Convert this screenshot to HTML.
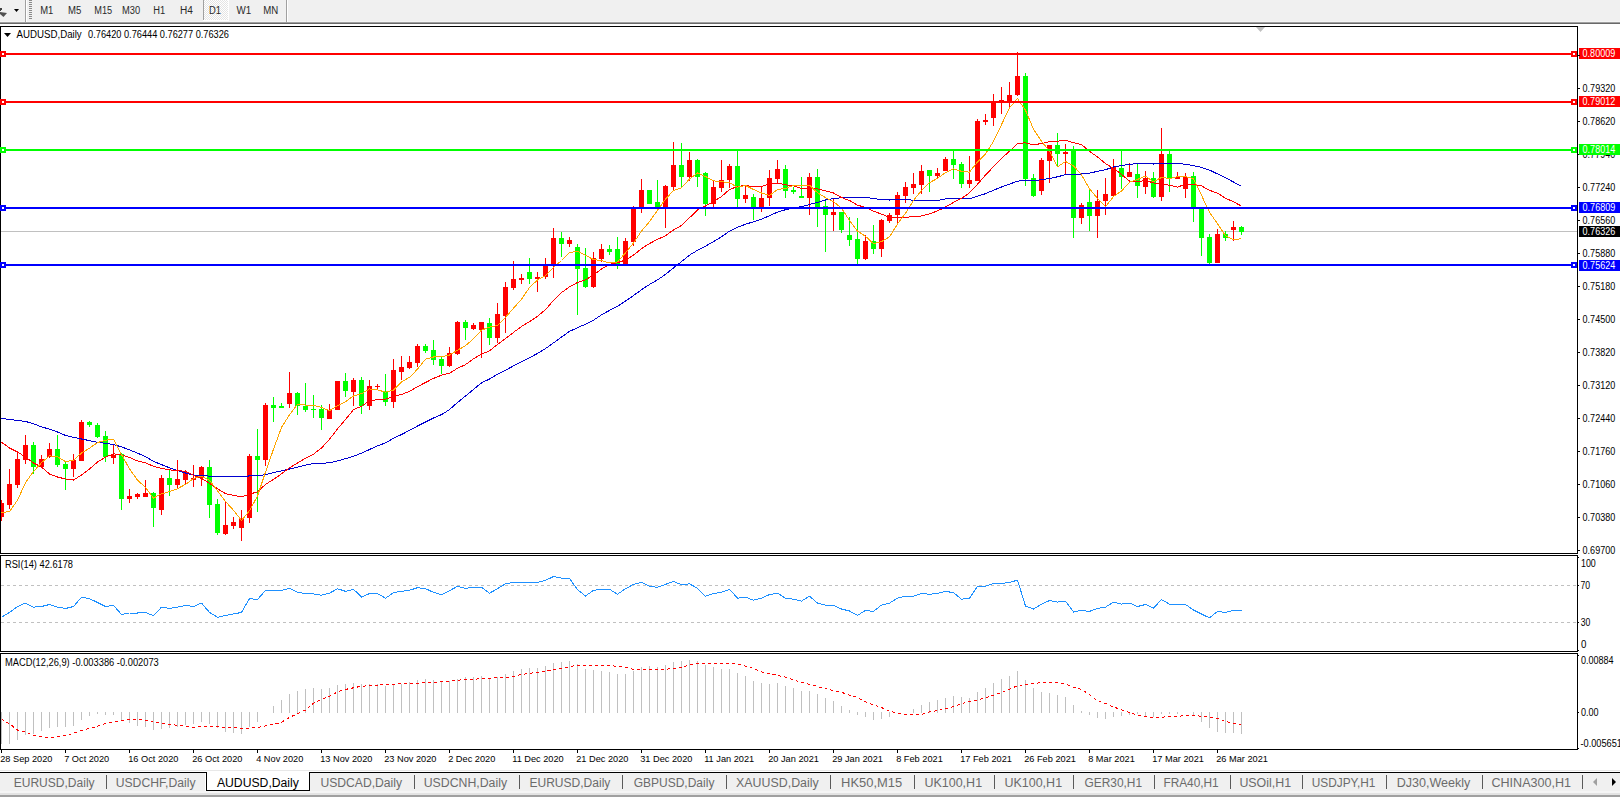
<!DOCTYPE html>
<html><head><meta charset="utf-8"><style>
html,body{margin:0;padding:0;background:#fff;width:1620px;height:797px;overflow:hidden}
svg{display:block;font-family:"Liberation Sans",sans-serif}
</style></head><body>
<svg width="1620" height="797" viewBox="0 0 1620 797" shape-rendering="crispEdges">
<defs><pattern id="chk" x="0" y="0" width="2" height="2" patternUnits="userSpaceOnUse"><rect width="2" height="2" fill="#ffffff"/><rect width="1" height="1" fill="#e4e4e4"/><rect x="1" y="1" width="1" height="1" fill="#e4e4e4"/></pattern><clipPath id="mainclip"><rect x="1" y="27" width="1576" height="526"/></clipPath><clipPath id="rsiclip"><rect x="1" y="556" width="1576" height="95"/></clipPath><clipPath id="macdclip"><rect x="1" y="654" width="1576" height="95"/></clipPath></defs>
<rect x="0" y="0" width="1620" height="21" fill="#f0f0f0"/><rect x="0" y="21" width="1620" height="1" fill="#f5f5f5"/><rect x="0" y="22" width="1620" height="1" fill="#a0a0a0"/><rect x="0" y="23" width="1620" height="1" fill="#696969"/><rect x="0" y="24" width="1620" height="2" fill="#ffffff"/><rect x="25" y="0" width="1" height="22" fill="#a0a0a0"/><rect x="26" y="0" width="1" height="22" fill="#ffffff"/><rect x="29" y="0" width="3" height="1" fill="#8a8a8a"/><rect x="29" y="2" width="3" height="1" fill="#8a8a8a"/><rect x="29" y="4" width="3" height="1" fill="#8a8a8a"/><rect x="29" y="6" width="3" height="1" fill="#8a8a8a"/><rect x="29" y="8" width="3" height="1" fill="#8a8a8a"/><rect x="29" y="10" width="3" height="1" fill="#8a8a8a"/><rect x="29" y="12" width="3" height="1" fill="#8a8a8a"/><rect x="29" y="14" width="3" height="1" fill="#8a8a8a"/><rect x="29" y="16" width="3" height="1" fill="#8a8a8a"/><rect x="29" y="18" width="3" height="1" fill="#8a8a8a"/><rect x="203" y="0" width="1" height="20" fill="#a0a0a0"/><rect x="204" y="0" width="24" height="20" fill="url(#chk)"/><rect x="228" y="0" width="1" height="21" fill="#ffffff"/><rect x="203" y="20" width="26" height="1" fill="#ffffff"/><rect x="286" y="0" width="1" height="22" fill="#a0a0a0"/><rect x="287" y="0" width="1" height="22" fill="#ffffff"/><path d="M14 9 L19 9 L16.5 12 Z" fill="#000" shape-rendering="auto"/><path d="M0 8 L2 8 L2 10 L0 11 Z" fill="#404040"/><path d="M0 12 L7 13 L3.5 17 L0 14 Z" fill="#505050" shape-rendering="auto"/><text x="40.2" y="14" font-size="10" fill="#2a2a2a" textLength="13.10" lengthAdjust="spacingAndGlyphs" >M1</text><text x="68.0" y="14" font-size="10" fill="#2a2a2a" textLength="13.30" lengthAdjust="spacingAndGlyphs" >M5</text><text x="94.3" y="14" font-size="10" fill="#2a2a2a" textLength="17.90" lengthAdjust="spacingAndGlyphs" >M15</text><text x="122.1" y="14" font-size="10" fill="#2a2a2a" textLength="18.10" lengthAdjust="spacingAndGlyphs" >M30</text><text x="153.3" y="14" font-size="10" fill="#2a2a2a" textLength="11.90" lengthAdjust="spacingAndGlyphs" >H1</text><text x="180.1" y="14" font-size="10" fill="#2a2a2a" textLength="12.90" lengthAdjust="spacingAndGlyphs" >H4</text><text x="209.1" y="14" font-size="10" fill="#2a2a2a" textLength="12.00" lengthAdjust="spacingAndGlyphs" >D1</text><text x="236.6" y="14" font-size="10" fill="#2a2a2a" textLength="14.70" lengthAdjust="spacingAndGlyphs" >W1</text><text x="263.3" y="14" font-size="10" fill="#2a2a2a" textLength="15.00" lengthAdjust="spacingAndGlyphs" >MN</text><rect x="0" y="26" width="1578" height="1" fill="#000"/><rect x="0" y="553" width="1578" height="1" fill="#000"/><rect x="0" y="26" width="1" height="528" fill="#000"/><rect x="1577" y="26" width="1" height="528" fill="#000"/><path d="M1256 27 L1265 27 L1260.5 32 Z" fill="#c0c0c0" shape-rendering="auto"/><rect x="1" y="231" width="1576" height="1" fill="#c0c0c0"/><g clip-path="url(#mainclip)"><rect x="1" y="500" width="1" height="21" fill="#ff0000"/><rect x="-1" y="503" width="5" height="14" fill="#ff0000"/><rect x="9" y="469" width="1" height="40" fill="#ff0000"/><rect x="7" y="484" width="5" height="21" fill="#ff0000"/><rect x="17" y="452" width="1" height="36" fill="#ff0000"/><rect x="15" y="459" width="5" height="26" fill="#ff0000"/><rect x="25" y="435" width="1" height="29" fill="#ff0000"/><rect x="23" y="445" width="5" height="15" fill="#ff0000"/><rect x="33" y="442" width="1" height="32" fill="#00ff00"/><rect x="31" y="445" width="5" height="22" fill="#00ff00"/><rect x="41" y="455" width="1" height="12" fill="#ff0000"/><rect x="39" y="459" width="5" height="8" fill="#ff0000"/><rect x="49" y="443" width="1" height="15" fill="#ff0000"/><rect x="47" y="449" width="5" height="8" fill="#ff0000"/><rect x="57" y="435" width="1" height="32" fill="#00ff00"/><rect x="55" y="449" width="5" height="16" fill="#00ff00"/><rect x="65" y="461" width="1" height="29" fill="#00ff00"/><rect x="63" y="464" width="5" height="5" fill="#00ff00"/><rect x="73" y="454" width="1" height="23" fill="#ff0000"/><rect x="71" y="460" width="5" height="9" fill="#ff0000"/><rect x="81" y="420" width="1" height="41" fill="#ff0000"/><rect x="79" y="422" width="5" height="39" fill="#ff0000"/><rect x="89" y="421" width="1" height="6" fill="#00ff00"/><rect x="87" y="422" width="5" height="3" fill="#00ff00"/><rect x="97" y="423" width="1" height="15" fill="#00ff00"/><rect x="95" y="425" width="5" height="12" fill="#00ff00"/><rect x="105" y="431" width="1" height="31" fill="#00ff00"/><rect x="103" y="436" width="5" height="21" fill="#00ff00"/><rect x="113" y="444" width="1" height="20" fill="#ff0000"/><rect x="111" y="455" width="5" height="3" fill="#ff0000"/><rect x="121" y="453" width="1" height="57" fill="#00ff00"/><rect x="119" y="454" width="5" height="45" fill="#00ff00"/><rect x="129" y="489" width="1" height="14" fill="#ff0000"/><rect x="127" y="496" width="5" height="3" fill="#ff0000"/><rect x="137" y="493" width="1" height="6" fill="#ff0000"/><rect x="135" y="494" width="5" height="3" fill="#ff0000"/><rect x="145" y="480" width="1" height="17" fill="#ff0000"/><rect x="143" y="493" width="5" height="4" fill="#ff0000"/><rect x="153" y="492" width="1" height="35" fill="#00ff00"/><rect x="151" y="493" width="5" height="15" fill="#00ff00"/><rect x="161" y="475" width="1" height="40" fill="#ff0000"/><rect x="159" y="478" width="5" height="32" fill="#ff0000"/><rect x="169" y="470" width="1" height="26" fill="#00ff00"/><rect x="167" y="478" width="5" height="7" fill="#00ff00"/><rect x="177" y="460" width="1" height="28" fill="#ff0000"/><rect x="175" y="479" width="5" height="6" fill="#ff0000"/><rect x="185" y="470" width="1" height="14" fill="#ff0000"/><rect x="183" y="472" width="5" height="8" fill="#ff0000"/><rect x="193" y="465" width="1" height="22" fill="#ff0000"/><rect x="191" y="478" width="5" height="2" fill="#ff0000"/><rect x="201" y="466" width="1" height="20" fill="#ff0000"/><rect x="199" y="467" width="5" height="11" fill="#ff0000"/><rect x="209" y="460" width="1" height="58" fill="#00ff00"/><rect x="207" y="467" width="5" height="38" fill="#00ff00"/><rect x="217" y="499" width="1" height="36" fill="#00ff00"/><rect x="215" y="504" width="5" height="29" fill="#00ff00"/><rect x="225" y="502" width="1" height="33" fill="#ff0000"/><rect x="223" y="525" width="5" height="9" fill="#ff0000"/><rect x="233" y="517" width="1" height="12" fill="#ff0000"/><rect x="231" y="522" width="5" height="4" fill="#ff0000"/><rect x="241" y="510" width="1" height="31" fill="#ff0000"/><rect x="239" y="518" width="5" height="10" fill="#ff0000"/><rect x="249" y="454" width="1" height="69" fill="#ff0000"/><rect x="247" y="456" width="5" height="62" fill="#ff0000"/><rect x="257" y="429" width="1" height="83" fill="#00ff00"/><rect x="255" y="456" width="5" height="4" fill="#00ff00"/><rect x="265" y="403" width="1" height="63" fill="#ff0000"/><rect x="263" y="405" width="5" height="55" fill="#ff0000"/><rect x="273" y="397" width="1" height="25" fill="#00ff00"/><rect x="271" y="405" width="5" height="3" fill="#00ff00"/><rect x="281" y="403" width="1" height="5" fill="#00ff00"/><rect x="279" y="406" width="5" height="2" fill="#00ff00"/><rect x="289" y="372" width="1" height="36" fill="#ff0000"/><rect x="287" y="393" width="5" height="11" fill="#ff0000"/><rect x="297" y="392" width="1" height="23" fill="#00ff00"/><rect x="295" y="393" width="5" height="13" fill="#00ff00"/><rect x="305" y="383" width="1" height="29" fill="#00ff00"/><rect x="303" y="406" width="5" height="4" fill="#00ff00"/><rect x="313" y="395" width="1" height="23" fill="#00ff00"/><rect x="311" y="409" width="5" height="1" fill="#00ff00"/><rect x="321" y="405" width="1" height="25" fill="#00ff00"/><rect x="319" y="409" width="5" height="9" fill="#00ff00"/><rect x="329" y="404" width="1" height="15" fill="#ff0000"/><rect x="327" y="410" width="5" height="9" fill="#ff0000"/><rect x="337" y="381" width="1" height="29" fill="#ff0000"/><rect x="335" y="381" width="5" height="29" fill="#ff0000"/><rect x="345" y="373" width="1" height="24" fill="#00ff00"/><rect x="343" y="381" width="5" height="10" fill="#00ff00"/><rect x="353" y="378" width="1" height="28" fill="#ff0000"/><rect x="351" y="380" width="5" height="12" fill="#ff0000"/><rect x="361" y="377" width="1" height="37" fill="#00ff00"/><rect x="359" y="380" width="5" height="26" fill="#00ff00"/><rect x="369" y="380" width="1" height="30" fill="#ff0000"/><rect x="367" y="386" width="5" height="20" fill="#ff0000"/><rect x="377" y="384" width="1" height="5" fill="#ff0000"/><rect x="375" y="386" width="5" height="1" fill="#ff0000"/><rect x="385" y="374" width="1" height="32" fill="#00ff00"/><rect x="383" y="392" width="5" height="10" fill="#00ff00"/><rect x="393" y="359" width="1" height="49" fill="#ff0000"/><rect x="391" y="370" width="5" height="32" fill="#ff0000"/><rect x="401" y="356" width="1" height="24" fill="#ff0000"/><rect x="399" y="367" width="5" height="5" fill="#ff0000"/><rect x="409" y="356" width="1" height="13" fill="#ff0000"/><rect x="407" y="362" width="5" height="6" fill="#ff0000"/><rect x="417" y="344" width="1" height="23" fill="#ff0000"/><rect x="415" y="346" width="5" height="17" fill="#ff0000"/><rect x="425" y="344" width="1" height="9" fill="#00ff00"/><rect x="423" y="346" width="5" height="5" fill="#00ff00"/><rect x="433" y="340" width="1" height="25" fill="#00ff00"/><rect x="431" y="350" width="5" height="10" fill="#00ff00"/><rect x="441" y="357" width="1" height="17" fill="#00ff00"/><rect x="439" y="359" width="5" height="7" fill="#00ff00"/><rect x="449" y="347" width="1" height="20" fill="#ff0000"/><rect x="447" y="353" width="5" height="13" fill="#ff0000"/><rect x="457" y="321" width="1" height="34" fill="#ff0000"/><rect x="455" y="322" width="5" height="32" fill="#ff0000"/><rect x="465" y="320" width="1" height="20" fill="#00ff00"/><rect x="463" y="322" width="5" height="6" fill="#00ff00"/><rect x="473" y="323" width="1" height="7" fill="#ff0000"/><rect x="471" y="325" width="5" height="4" fill="#ff0000"/><rect x="481" y="322" width="1" height="36" fill="#ff0000"/><rect x="479" y="322" width="5" height="8" fill="#ff0000"/><rect x="489" y="318" width="1" height="27" fill="#00ff00"/><rect x="487" y="323" width="5" height="15" fill="#00ff00"/><rect x="497" y="303" width="1" height="40" fill="#ff0000"/><rect x="495" y="314" width="5" height="24" fill="#ff0000"/><rect x="505" y="282" width="1" height="51" fill="#ff0000"/><rect x="503" y="287" width="5" height="29" fill="#ff0000"/><rect x="513" y="261" width="1" height="29" fill="#ff0000"/><rect x="511" y="279" width="5" height="9" fill="#ff0000"/><rect x="521" y="274" width="1" height="10" fill="#ff0000"/><rect x="519" y="278" width="5" height="2" fill="#ff0000"/><rect x="529" y="258" width="1" height="26" fill="#00ff00"/><rect x="527" y="272" width="5" height="7" fill="#00ff00"/><rect x="537" y="272" width="1" height="20" fill="#ff0000"/><rect x="535" y="277" width="5" height="2" fill="#ff0000"/><rect x="545" y="258" width="1" height="21" fill="#ff0000"/><rect x="543" y="266" width="5" height="11" fill="#ff0000"/><rect x="553" y="228" width="1" height="50" fill="#ff0000"/><rect x="551" y="238" width="5" height="28" fill="#ff0000"/><rect x="561" y="232" width="1" height="25" fill="#00ff00"/><rect x="559" y="238" width="5" height="6" fill="#00ff00"/><rect x="569" y="237" width="1" height="10" fill="#ff0000"/><rect x="567" y="240" width="5" height="4" fill="#ff0000"/><rect x="577" y="244" width="1" height="71" fill="#00ff00"/><rect x="575" y="247" width="5" height="22" fill="#00ff00"/><rect x="585" y="248" width="1" height="40" fill="#00ff00"/><rect x="583" y="268" width="5" height="19" fill="#00ff00"/><rect x="593" y="252" width="1" height="36" fill="#ff0000"/><rect x="591" y="258" width="5" height="29" fill="#ff0000"/><rect x="601" y="244" width="1" height="18" fill="#ff0000"/><rect x="599" y="249" width="5" height="10" fill="#ff0000"/><rect x="609" y="245" width="1" height="10" fill="#00ff00"/><rect x="607" y="249" width="5" height="3" fill="#00ff00"/><rect x="617" y="237" width="1" height="32" fill="#00ff00"/><rect x="615" y="249" width="5" height="15" fill="#00ff00"/><rect x="625" y="238" width="1" height="26" fill="#ff0000"/><rect x="623" y="241" width="5" height="23" fill="#ff0000"/><rect x="633" y="206" width="1" height="40" fill="#ff0000"/><rect x="631" y="209" width="5" height="33" fill="#ff0000"/><rect x="641" y="179" width="1" height="34" fill="#ff0000"/><rect x="639" y="190" width="5" height="17" fill="#ff0000"/><rect x="649" y="190" width="1" height="14" fill="#00ff00"/><rect x="647" y="190" width="5" height="14" fill="#00ff00"/><rect x="657" y="180" width="1" height="27" fill="#00ff00"/><rect x="655" y="202" width="5" height="5" fill="#00ff00"/><rect x="665" y="185" width="1" height="43" fill="#ff0000"/><rect x="663" y="186" width="5" height="21" fill="#ff0000"/><rect x="673" y="142" width="1" height="48" fill="#ff0000"/><rect x="671" y="165" width="5" height="22" fill="#ff0000"/><rect x="681" y="143" width="1" height="45" fill="#00ff00"/><rect x="679" y="165" width="5" height="12" fill="#00ff00"/><rect x="689" y="152" width="1" height="29" fill="#ff0000"/><rect x="687" y="160" width="5" height="17" fill="#ff0000"/><rect x="697" y="159" width="1" height="28" fill="#00ff00"/><rect x="695" y="160" width="5" height="17" fill="#00ff00"/><rect x="705" y="172" width="1" height="44" fill="#00ff00"/><rect x="703" y="173" width="5" height="31" fill="#00ff00"/><rect x="713" y="181" width="1" height="26" fill="#ff0000"/><rect x="711" y="187" width="5" height="17" fill="#ff0000"/><rect x="721" y="160" width="1" height="32" fill="#ff0000"/><rect x="719" y="180" width="5" height="8" fill="#ff0000"/><rect x="729" y="164" width="1" height="24" fill="#ff0000"/><rect x="727" y="166" width="5" height="14" fill="#ff0000"/><rect x="737" y="151" width="1" height="56" fill="#00ff00"/><rect x="735" y="166" width="5" height="33" fill="#00ff00"/><rect x="745" y="185" width="1" height="18" fill="#ff0000"/><rect x="743" y="195" width="5" height="4" fill="#ff0000"/><rect x="753" y="194" width="1" height="26" fill="#00ff00"/><rect x="751" y="197" width="5" height="10" fill="#00ff00"/><rect x="761" y="187" width="1" height="25" fill="#ff0000"/><rect x="759" y="198" width="5" height="10" fill="#ff0000"/><rect x="769" y="170" width="1" height="36" fill="#ff0000"/><rect x="767" y="178" width="5" height="20" fill="#ff0000"/><rect x="777" y="160" width="1" height="24" fill="#ff0000"/><rect x="775" y="169" width="5" height="10" fill="#ff0000"/><rect x="785" y="165" width="1" height="33" fill="#00ff00"/><rect x="783" y="169" width="5" height="22" fill="#00ff00"/><rect x="793" y="187" width="1" height="7" fill="#00ff00"/><rect x="791" y="190" width="5" height="2" fill="#00ff00"/><rect x="801" y="177" width="1" height="21" fill="#00ff00"/><rect x="799" y="196" width="5" height="2" fill="#00ff00"/><rect x="809" y="173" width="1" height="42" fill="#ff0000"/><rect x="807" y="177" width="5" height="21" fill="#ff0000"/><rect x="817" y="169" width="1" height="58" fill="#00ff00"/><rect x="815" y="177" width="5" height="30" fill="#00ff00"/><rect x="825" y="199" width="1" height="53" fill="#00ff00"/><rect x="823" y="206" width="5" height="9" fill="#00ff00"/><rect x="833" y="199" width="1" height="32" fill="#ff0000"/><rect x="831" y="212" width="5" height="3" fill="#ff0000"/><rect x="841" y="212" width="1" height="21" fill="#00ff00"/><rect x="839" y="212" width="5" height="18" fill="#00ff00"/><rect x="849" y="217" width="1" height="29" fill="#00ff00"/><rect x="847" y="235" width="5" height="5" fill="#00ff00"/><rect x="857" y="218" width="1" height="46" fill="#00ff00"/><rect x="855" y="239" width="5" height="20" fill="#00ff00"/><rect x="865" y="235" width="1" height="25" fill="#ff0000"/><rect x="863" y="241" width="5" height="18" fill="#ff0000"/><rect x="873" y="225" width="1" height="29" fill="#00ff00"/><rect x="871" y="241" width="5" height="8" fill="#00ff00"/><rect x="881" y="219" width="1" height="38" fill="#ff0000"/><rect x="879" y="220" width="5" height="29" fill="#ff0000"/><rect x="889" y="213" width="1" height="10" fill="#ff0000"/><rect x="887" y="215" width="5" height="6" fill="#ff0000"/><rect x="897" y="192" width="1" height="32" fill="#ff0000"/><rect x="895" y="195" width="5" height="20" fill="#ff0000"/><rect x="905" y="182" width="1" height="21" fill="#ff0000"/><rect x="903" y="187" width="5" height="9" fill="#ff0000"/><rect x="913" y="173" width="1" height="21" fill="#ff0000"/><rect x="911" y="184" width="5" height="4" fill="#ff0000"/><rect x="921" y="165" width="1" height="29" fill="#ff0000"/><rect x="919" y="171" width="5" height="14" fill="#ff0000"/><rect x="929" y="170" width="1" height="22" fill="#00ff00"/><rect x="927" y="170" width="5" height="6" fill="#00ff00"/><rect x="937" y="168" width="1" height="10" fill="#ff0000"/><rect x="935" y="173" width="5" height="3" fill="#ff0000"/><rect x="945" y="157" width="1" height="14" fill="#ff0000"/><rect x="943" y="159" width="5" height="12" fill="#ff0000"/><rect x="953" y="151" width="1" height="28" fill="#00ff00"/><rect x="951" y="159" width="5" height="6" fill="#00ff00"/><rect x="961" y="162" width="1" height="26" fill="#00ff00"/><rect x="959" y="164" width="5" height="20" fill="#00ff00"/><rect x="969" y="156" width="1" height="32" fill="#ff0000"/><rect x="967" y="180" width="5" height="4" fill="#ff0000"/><rect x="977" y="119" width="1" height="62" fill="#ff0000"/><rect x="975" y="121" width="5" height="60" fill="#ff0000"/><rect x="985" y="114" width="1" height="11" fill="#ff0000"/><rect x="983" y="120" width="5" height="2" fill="#ff0000"/><rect x="993" y="94" width="1" height="32" fill="#ff0000"/><rect x="991" y="102" width="5" height="16" fill="#ff0000"/><rect x="1001" y="87" width="1" height="27" fill="#ff0000"/><rect x="999" y="100" width="5" height="2" fill="#ff0000"/><rect x="1009" y="82" width="1" height="25" fill="#ff0000"/><rect x="1007" y="95" width="5" height="7" fill="#ff0000"/><rect x="1017" y="52" width="1" height="44" fill="#ff0000"/><rect x="1015" y="76" width="5" height="19" fill="#ff0000"/><rect x="1025" y="73" width="1" height="113" fill="#00ff00"/><rect x="1023" y="76" width="5" height="103" fill="#00ff00"/><rect x="1033" y="174" width="1" height="23" fill="#00ff00"/><rect x="1031" y="178" width="5" height="18" fill="#00ff00"/><rect x="1041" y="158" width="1" height="37" fill="#ff0000"/><rect x="1039" y="160" width="5" height="31" fill="#ff0000"/><rect x="1049" y="145" width="1" height="38" fill="#ff0000"/><rect x="1047" y="145" width="5" height="16" fill="#ff0000"/><rect x="1057" y="133" width="1" height="33" fill="#00ff00"/><rect x="1055" y="145" width="5" height="9" fill="#00ff00"/><rect x="1065" y="144" width="1" height="30" fill="#ff0000"/><rect x="1063" y="152" width="5" height="2" fill="#ff0000"/><rect x="1073" y="146" width="1" height="92" fill="#00ff00"/><rect x="1071" y="150" width="5" height="68" fill="#00ff00"/><rect x="1081" y="203" width="1" height="21" fill="#ff0000"/><rect x="1079" y="205" width="5" height="13" fill="#ff0000"/><rect x="1089" y="189" width="1" height="42" fill="#00ff00"/><rect x="1087" y="202" width="5" height="14" fill="#00ff00"/><rect x="1097" y="190" width="1" height="48" fill="#ff0000"/><rect x="1095" y="201" width="5" height="15" fill="#ff0000"/><rect x="1105" y="178" width="1" height="37" fill="#ff0000"/><rect x="1103" y="194" width="5" height="7" fill="#ff0000"/><rect x="1113" y="159" width="1" height="38" fill="#ff0000"/><rect x="1111" y="167" width="5" height="29" fill="#ff0000"/><rect x="1121" y="151" width="1" height="38" fill="#00ff00"/><rect x="1119" y="168" width="5" height="9" fill="#00ff00"/><rect x="1129" y="163" width="1" height="14" fill="#ff0000"/><rect x="1127" y="172" width="5" height="5" fill="#ff0000"/><rect x="1137" y="164" width="1" height="34" fill="#00ff00"/><rect x="1135" y="174" width="5" height="12" fill="#00ff00"/><rect x="1145" y="171" width="1" height="23" fill="#ff0000"/><rect x="1143" y="178" width="5" height="9" fill="#ff0000"/><rect x="1153" y="172" width="1" height="26" fill="#00ff00"/><rect x="1151" y="178" width="5" height="19" fill="#00ff00"/><rect x="1161" y="128" width="1" height="73" fill="#ff0000"/><rect x="1159" y="154" width="5" height="43" fill="#ff0000"/><rect x="1169" y="151" width="1" height="41" fill="#00ff00"/><rect x="1167" y="154" width="5" height="24" fill="#00ff00"/><rect x="1177" y="172" width="1" height="7" fill="#ff0000"/><rect x="1175" y="177" width="5" height="2" fill="#ff0000"/><rect x="1185" y="173" width="1" height="25" fill="#ff0000"/><rect x="1183" y="177" width="5" height="12" fill="#ff0000"/><rect x="1193" y="172" width="1" height="50" fill="#00ff00"/><rect x="1191" y="176" width="5" height="31" fill="#00ff00"/><rect x="1201" y="207" width="1" height="49" fill="#00ff00"/><rect x="1199" y="208" width="5" height="30" fill="#00ff00"/><rect x="1209" y="234" width="1" height="30" fill="#00ff00"/><rect x="1207" y="237" width="5" height="26" fill="#00ff00"/><rect x="1217" y="229" width="1" height="34" fill="#ff0000"/><rect x="1215" y="234" width="5" height="29" fill="#ff0000"/><rect x="1225" y="231" width="1" height="10" fill="#00ff00"/><rect x="1223" y="234" width="5" height="4" fill="#00ff00"/><rect x="1233" y="221" width="1" height="20" fill="#ff0000"/><rect x="1231" y="227" width="5" height="3" fill="#ff0000"/><rect x="1241" y="226" width="1" height="9" fill="#00ff00"/><rect x="1239" y="227" width="5" height="5" fill="#00ff00"/></g><polyline points="0.0,418.2 9.5,419.4 17.5,420.4 25.5,421.4 33.5,423.8 41.5,426.8 49.5,429.2 57.5,432.0 65.5,435.4 73.5,437.3 81.5,439.0 89.5,440.6 97.5,442.3 105.5,443.3 113.5,444.5 121.5,446.9 129.5,449.8 137.5,453.1 145.5,456.7 153.5,461.4 161.5,464.6 169.5,467.8 177.5,470.5 185.5,473.0 193.5,475.0 201.5,475.7 209.5,476.1 217.5,476.2 225.5,476.2 233.5,476.3 241.5,476.8 249.5,475.9 257.5,475.9 265.5,474.6 273.5,472.6 281.5,470.9 289.5,469.0 297.5,467.1 305.5,465.1 313.5,463.5 321.5,463.3 329.5,462.8 337.5,460.9 345.5,458.7 353.5,456.2 361.5,453.2 369.5,449.5 377.5,445.9 385.5,442.9 393.5,438.2 401.5,434.5 409.5,430.4 417.5,426.0 425.5,422.0 433.5,418.0 441.5,414.6 449.5,409.6 457.5,402.5 465.5,396.0 473.5,389.4 481.5,382.9 489.5,379.0 497.5,374.1 505.5,370.2 513.5,365.9 521.5,361.6 529.5,357.8 537.5,353.4 545.5,348.6 553.5,342.9 561.5,337.1 569.5,331.4 577.5,327.7 585.5,324.2 593.5,320.2 601.5,314.9 609.5,310.4 617.5,306.4 625.5,301.0 633.5,295.6 641.5,289.7 649.5,284.5 657.5,279.9 665.5,274.4 673.5,267.9 681.5,261.6 689.5,255.1 697.5,250.3 705.5,246.2 713.5,241.6 721.5,236.8 729.5,231.1 737.5,227.3 745.5,224.2 753.5,221.8 761.5,219.1 769.5,215.8 777.5,212.1 785.5,209.7 793.5,208.1 801.5,206.6 809.5,204.5 817.5,202.4 825.5,200.0 833.5,198.5 841.5,197.8 849.5,197.4 857.5,197.3 865.5,197.3 873.5,198.6 881.5,199.6 889.5,200.0 897.5,199.6 905.5,199.6 913.5,200.2 921.5,200.1 929.5,200.6 937.5,200.5 945.5,199.0 953.5,198.2 961.5,198.3 969.5,198.8 977.5,196.2 985.5,193.7 993.5,190.2 1001.5,187.0 1009.5,184.2 1017.5,181.1 1025.5,180.7 1033.5,180.8 1041.5,179.6 1049.5,178.5 1057.5,176.8 1065.5,174.7 1073.5,174.9 1081.5,174.0 1089.5,173.2 1097.5,171.3 1105.5,169.7 1113.5,167.0 1121.5,165.6 1129.5,164.1 1137.5,163.9 1145.5,163.5 1153.5,164.0 1161.5,163.4 1169.5,163.5 1177.5,163.6 1185.5,164.2 1193.5,165.6 1201.5,167.4 1209.5,170.1 1217.5,173.9 1225.5,177.8 1233.5,182.0 1241.5,186.4" fill="none" stroke="#0000d0" stroke-width="1" clip-path="url(#mainclip)"/><polyline points="1.5,442.2 9.5,448.0 17.5,452.0 25.5,457.0 33.5,463.0 41.5,467.0 49.5,474.0 57.5,477.0 65.5,479.0 73.5,480.0 81.5,475.0 89.5,469.0 97.5,462.0 105.5,457.2 113.5,453.8 121.5,454.8 129.5,457.5 137.5,460.9 145.5,462.8 153.5,466.4 161.5,468.4 169.5,469.9 177.5,470.6 185.5,471.4 193.5,475.4 201.5,478.4 209.5,483.3 217.5,488.7 225.5,493.7 233.5,495.3 241.5,496.9 249.5,494.2 257.5,491.8 265.5,484.4 273.5,479.4 281.5,473.9 289.5,467.8 297.5,463.1 305.5,458.2 313.5,454.2 321.5,448.0 329.5,439.2 337.5,428.9 345.5,419.5 353.5,409.7 361.5,406.2 369.5,400.9 377.5,399.5 385.5,399.1 393.5,396.3 401.5,394.5 409.5,391.3 417.5,386.7 425.5,382.5 433.5,378.4 441.5,375.2 449.5,373.2 457.5,368.3 465.5,364.6 473.5,358.8 481.5,354.2 489.5,350.8 497.5,344.5 505.5,338.6 513.5,332.4 521.5,326.4 529.5,321.6 537.5,316.3 545.5,309.6 553.5,300.4 561.5,292.6 569.5,286.8 577.5,282.5 585.5,279.8 593.5,275.2 601.5,268.9 609.5,264.4 617.5,262.7 625.5,260.0 633.5,255.1 641.5,248.7 649.5,243.5 657.5,239.4 665.5,235.7 673.5,230.0 681.5,225.5 689.5,217.8 697.5,209.9 705.5,206.0 713.5,201.6 721.5,196.5 729.5,189.5 737.5,186.5 745.5,185.5 753.5,186.7 761.5,186.3 769.5,184.2 777.5,183.0 785.5,184.8 793.5,185.9 801.5,188.6 809.5,188.6 817.5,188.8 825.5,190.8 833.5,193.0 841.5,197.6 849.5,200.5 857.5,205.1 865.5,207.5 873.5,211.1 881.5,214.1 889.5,217.4 897.5,217.8 905.5,217.4 913.5,216.5 921.5,216.0 929.5,213.8 937.5,210.9 945.5,207.1 953.5,202.4 961.5,198.4 969.5,192.8 977.5,184.2 985.5,175.1 993.5,166.6 1001.5,158.4 1009.5,151.2 1017.5,143.3 1025.5,142.9 1033.5,144.7 1041.5,143.6 1049.5,141.6 1057.5,141.2 1065.5,140.3 1073.5,142.7 1081.5,144.5 1089.5,151.3 1097.5,157.0 1105.5,163.6 1113.5,168.4 1121.5,174.3 1129.5,181.1 1137.5,181.7 1145.5,180.4 1153.5,183.0 1161.5,183.6 1169.5,185.3 1177.5,187.1 1185.5,184.2 1193.5,184.3 1201.5,185.9 1209.5,190.3 1217.5,193.2 1225.5,198.2 1233.5,201.8 1241.5,206.1" fill="none" stroke="#ff0000" stroke-width="1" clip-path="url(#mainclip)"/><polyline points="1.5,512.8 9.5,511.5 17.5,500.2 25.5,482.6 33.5,471.5 41.5,462.7 49.5,455.8 57.5,456.9 65.5,461.6 73.5,460.3 81.5,453.0 89.5,448.2 97.5,442.6 105.5,440.2 113.5,439.3 121.5,454.6 129.5,468.8 137.5,480.1 145.5,487.4 153.5,498.0 161.5,493.9 169.5,491.7 177.5,488.7 185.5,484.4 193.5,478.4 201.5,476.1 209.5,480.1 217.5,490.9 225.5,501.5 233.5,510.3 241.5,520.4 249.5,510.7 257.5,496.0 265.5,472.1 273.5,449.2 281.5,427.4 289.5,414.8 297.5,404.2 305.5,405.1 313.5,405.5 321.5,407.4 329.5,410.7 337.5,405.6 345.5,401.8 353.5,395.9 361.5,393.7 369.5,388.9 377.5,389.9 385.5,392.1 393.5,390.1 401.5,382.1 409.5,377.3 417.5,369.2 425.5,359.1 433.5,357.0 441.5,356.8 449.5,355.0 457.5,350.2 465.5,345.7 473.5,338.8 481.5,330.1 489.5,327.1 497.5,325.6 505.5,317.4 513.5,308.2 521.5,299.3 529.5,287.5 537.5,280.0 545.5,275.7 553.5,267.4 561.5,260.5 569.5,252.7 577.5,251.1 585.5,255.4 593.5,259.5 601.5,260.6 609.5,263.0 617.5,262.0 625.5,252.8 633.5,242.9 641.5,231.1 649.5,221.6 657.5,210.3 665.5,199.2 673.5,190.4 681.5,187.8 689.5,179.0 697.5,172.9 705.5,176.5 713.5,180.9 721.5,181.6 729.5,182.8 737.5,187.2 745.5,185.5 753.5,189.5 761.5,193.0 769.5,195.4 777.5,189.4 785.5,188.5 793.5,185.4 801.5,185.4 809.5,185.2 817.5,192.7 825.5,197.6 833.5,201.7 841.5,208.1 849.5,220.6 857.5,231.1 865.5,236.3 873.5,243.7 881.5,241.7 889.5,236.8 897.5,224.0 905.5,213.2 913.5,200.4 921.5,190.6 929.5,182.7 937.5,178.3 945.5,172.7 953.5,168.8 961.5,171.3 969.5,172.2 977.5,161.8 985.5,154.0 993.5,141.4 1001.5,124.7 1009.5,107.7 1017.5,98.6 1025.5,110.3 1033.5,129.2 1041.5,141.2 1049.5,151.2 1057.5,166.8 1065.5,161.5 1073.5,165.8 1081.5,174.8 1089.5,188.9 1097.5,198.3 1105.5,206.7 1113.5,196.6 1121.5,191.0 1129.5,182.3 1137.5,179.4 1145.5,176.1 1153.5,181.9 1161.5,177.4 1169.5,178.6 1177.5,176.7 1185.5,176.6 1193.5,178.6 1201.5,195.3 1209.5,212.3 1217.5,223.7 1225.5,235.8 1233.5,239.9 1241.5,238.7" fill="none" stroke="#ffa500" stroke-width="1" clip-path="url(#mainclip)"/><rect x="1" y="53" width="1576" height="2" fill="#ff0000"/><rect x="0" y="51" width="6" height="6" fill="#ff0000"/><rect x="2" y="53" width="2" height="2" fill="#fff"/><rect x="1571" y="51" width="6" height="6" fill="#ff0000"/><rect x="1573" y="53" width="2" height="2" fill="#fff"/><rect x="1" y="101" width="1576" height="2" fill="#ff0000"/><rect x="0" y="99" width="6" height="6" fill="#ff0000"/><rect x="2" y="101" width="2" height="2" fill="#fff"/><rect x="1571" y="99" width="6" height="6" fill="#ff0000"/><rect x="1573" y="101" width="2" height="2" fill="#fff"/><rect x="1" y="149" width="1576" height="2" fill="#00ff00"/><rect x="0" y="147" width="6" height="6" fill="#00ff00"/><rect x="2" y="149" width="2" height="2" fill="#fff"/><rect x="1571" y="147" width="6" height="6" fill="#00ff00"/><rect x="1573" y="149" width="2" height="2" fill="#fff"/><rect x="1" y="207" width="1576" height="2" fill="#0000ff"/><rect x="0" y="205" width="6" height="6" fill="#0000ff"/><rect x="2" y="207" width="2" height="2" fill="#fff"/><rect x="1571" y="205" width="6" height="6" fill="#0000ff"/><rect x="1573" y="207" width="2" height="2" fill="#fff"/><rect x="1" y="264" width="1576" height="2" fill="#0000ff"/><rect x="0" y="262" width="6" height="6" fill="#0000ff"/><rect x="2" y="264" width="2" height="2" fill="#fff"/><rect x="1571" y="262" width="6" height="6" fill="#0000ff"/><rect x="1573" y="264" width="2" height="2" fill="#fff"/><rect x="1578" y="88" width="2" height="1" fill="#000"/><text x="1582.6" y="92" font-size="10" fill="#000" textLength="32.60" lengthAdjust="spacingAndGlyphs" >0.79320</text><rect x="1578" y="121" width="2" height="1" fill="#000"/><text x="1582.6" y="125" font-size="10" fill="#000" textLength="32.60" lengthAdjust="spacingAndGlyphs" >0.78620</text><rect x="1578" y="154" width="2" height="1" fill="#000"/><text x="1582.6" y="158" font-size="10" fill="#000" textLength="32.60" lengthAdjust="spacingAndGlyphs" >0.77940</text><rect x="1578" y="187" width="2" height="1" fill="#000"/><text x="1582.6" y="191" font-size="10" fill="#000" textLength="32.60" lengthAdjust="spacingAndGlyphs" >0.77240</text><rect x="1578" y="220" width="2" height="1" fill="#000"/><text x="1582.6" y="224" font-size="10" fill="#000" textLength="32.60" lengthAdjust="spacingAndGlyphs" >0.76560</text><rect x="1578" y="253" width="2" height="1" fill="#000"/><text x="1582.6" y="257" font-size="10" fill="#000" textLength="32.60" lengthAdjust="spacingAndGlyphs" >0.75880</text><rect x="1578" y="286" width="2" height="1" fill="#000"/><text x="1582.6" y="290" font-size="10" fill="#000" textLength="32.60" lengthAdjust="spacingAndGlyphs" >0.75180</text><rect x="1578" y="319" width="2" height="1" fill="#000"/><text x="1582.6" y="323" font-size="10" fill="#000" textLength="32.60" lengthAdjust="spacingAndGlyphs" >0.74500</text><rect x="1578" y="352" width="2" height="1" fill="#000"/><text x="1582.6" y="356" font-size="10" fill="#000" textLength="32.60" lengthAdjust="spacingAndGlyphs" >0.73820</text><rect x="1578" y="385" width="2" height="1" fill="#000"/><text x="1582.6" y="389" font-size="10" fill="#000" textLength="32.60" lengthAdjust="spacingAndGlyphs" >0.73120</text><rect x="1578" y="418" width="2" height="1" fill="#000"/><text x="1582.6" y="422" font-size="10" fill="#000" textLength="32.60" lengthAdjust="spacingAndGlyphs" >0.72440</text><rect x="1578" y="451" width="2" height="1" fill="#000"/><text x="1582.6" y="455" font-size="10" fill="#000" textLength="32.60" lengthAdjust="spacingAndGlyphs" >0.71760</text><rect x="1578" y="484" width="2" height="1" fill="#000"/><text x="1582.6" y="488" font-size="10" fill="#000" textLength="32.60" lengthAdjust="spacingAndGlyphs" >0.71060</text><rect x="1578" y="517" width="2" height="1" fill="#000"/><text x="1582.6" y="521" font-size="10" fill="#000" textLength="32.60" lengthAdjust="spacingAndGlyphs" >0.70380</text><rect x="1578" y="550" width="2" height="1" fill="#000"/><text x="1582.6" y="554" font-size="10" fill="#000" textLength="32.60" lengthAdjust="spacingAndGlyphs" >0.69700</text><rect x="1579" y="48" width="41" height="11" fill="#ff0000"/><text x="1582.6" y="57" font-size="10" fill="#fff" textLength="32.60" lengthAdjust="spacingAndGlyphs" >0.80009</text><rect x="1579" y="96" width="41" height="11" fill="#ff0000"/><text x="1582.6" y="105" font-size="10" fill="#fff" textLength="32.60" lengthAdjust="spacingAndGlyphs" >0.79012</text><rect x="1579" y="144" width="41" height="11" fill="#00ff00"/><text x="1582.6" y="153" font-size="10" fill="#fff" textLength="32.60" lengthAdjust="spacingAndGlyphs" >0.78014</text><rect x="1579" y="202" width="41" height="11" fill="#0000ff"/><text x="1582.6" y="211" font-size="10" fill="#fff" textLength="32.60" lengthAdjust="spacingAndGlyphs" >0.76809</text><rect x="1579" y="260" width="41" height="11" fill="#0000ff"/><text x="1582.6" y="269" font-size="10" fill="#fff" textLength="32.60" lengthAdjust="spacingAndGlyphs" >0.75624</text><rect x="1579" y="226" width="41" height="11" fill="#000000"/><text x="1582.6" y="235" font-size="10" fill="#fff" textLength="32.60" lengthAdjust="spacingAndGlyphs" >0.76326</text><rect x="1578" y="55" width="2" height="1" fill="#000"/><path d="M4 33 L11 33 L7.5 37 Z" fill="#000" shape-rendering="auto"/><text x="16.5" y="38" font-size="10" fill="#000" textLength="65.20" lengthAdjust="spacingAndGlyphs" >AUDUSD,Daily</text><text x="88.1" y="38" font-size="10" fill="#000" textLength="140.90" lengthAdjust="spacingAndGlyphs" >0.76420 0.76444 0.76277 0.76326</text><rect x="0" y="555" width="1578" height="1" fill="#000"/><rect x="0" y="651" width="1578" height="1" fill="#000"/><rect x="0" y="555" width="1" height="97" fill="#000"/><rect x="1577" y="555" width="1" height="97" fill="#000"/><line x1="1" y1="585.5" x2="1577" y2="585.5" stroke="#c0c0c0" stroke-width="1" stroke-dasharray="3,3"/><line x1="1" y1="622.5" x2="1577" y2="622.5" stroke="#c0c0c0" stroke-width="1" stroke-dasharray="3,3"/><text x="5" y="568" font-size="10" fill="#000" textLength="68.00" lengthAdjust="spacingAndGlyphs" >RSI(14) 42.6178</text><polyline points="1.5,617.3 9.5,612.4 17.5,606.5 25.5,603.1 33.5,607.1 41.5,606.5 49.5,604.5 57.5,607.1 65.5,608.5 73.5,606.5 81.5,597.2 89.5,598.6 97.5,602.5 105.5,606.5 113.5,605.5 121.5,614.4 129.5,613.0 137.5,613.0 145.5,612.4 153.5,615.8 161.5,607.1 169.5,608.5 177.5,607.1 185.5,605.5 193.5,606.5 201.5,603.1 209.5,612.4 217.5,617.3 225.5,615.4 233.5,614.0 241.5,612.4 249.5,598.6 257.5,599.6 265.5,590.3 273.5,590.3 281.5,590.3 289.5,588.3 297.5,592.3 305.5,593.6 313.5,594.0 321.5,595.2 329.5,593.2 337.5,588.7 345.5,591.3 353.5,589.3 361.5,597.0 369.5,593.6 377.5,593.6 385.5,598.2 393.5,592.7 401.5,591.3 409.5,590.3 417.5,587.7 425.5,588.7 433.5,592.3 441.5,594.6 449.5,590.7 457.5,586.3 465.5,588.3 473.5,587.3 481.5,587.3 489.5,593.2 497.5,588.7 505.5,583.8 513.5,582.4 521.5,582.4 529.5,582.4 537.5,582.4 545.5,580.4 553.5,576.5 561.5,578.2 569.5,578.4 577.5,589.7 585.5,596.0 593.5,590.3 601.5,589.3 609.5,589.3 617.5,594.2 625.5,588.7 633.5,584.4 641.5,582.4 649.5,586.3 657.5,587.3 665.5,584.4 673.5,581.4 681.5,584.8 689.5,583.8 697.5,588.3 705.5,596.2 713.5,593.6 721.5,592.3 729.5,589.3 737.5,598.2 745.5,597.2 753.5,600.2 761.5,598.2 769.5,594.6 777.5,593.2 785.5,598.2 793.5,599.2 801.5,601.1 809.5,596.2 817.5,603.1 825.5,605.1 833.5,605.5 841.5,609.0 849.5,611.0 857.5,615.4 865.5,610.4 873.5,611.4 881.5,605.1 889.5,603.1 897.5,598.2 905.5,596.2 913.5,596.2 921.5,593.6 929.5,594.2 937.5,593.5 945.5,591.3 953.5,592.7 961.5,599.2 969.5,598.2 977.5,586.3 985.5,586.3 993.5,583.4 1001.5,583.4 1009.5,582.4 1017.5,580.2 1025.5,606.1 1033.5,609.0 1041.5,604.1 1049.5,600.6 1057.5,602.1 1065.5,601.1 1073.5,612.0 1081.5,610.4 1089.5,611.4 1097.5,608.5 1105.5,607.1 1113.5,602.1 1121.5,604.1 1129.5,603.1 1137.5,606.5 1145.5,604.5 1153.5,608.1 1161.5,599.6 1169.5,604.1 1177.5,604.1 1185.5,604.5 1193.5,610.0 1201.5,614.0 1209.5,617.9 1217.5,611.4 1225.5,612.4 1233.5,610.4 1241.5,610.4" fill="none" stroke="#1e90ff" stroke-width="1" clip-path="url(#rsiclip)"/><rect x="1578" y="557" width="1" height="1" fill="#000"/><rect x="1578" y="585" width="1" height="1" fill="#000"/><rect x="1578" y="622" width="1" height="1" fill="#000"/><rect x="1578" y="650" width="1" height="1" fill="#000"/><text x="1581" y="567" font-size="10" fill="#000" textLength="14.80" lengthAdjust="spacingAndGlyphs" >100</text><text x="1580.5" y="589" font-size="10" fill="#000" textLength="9.60" lengthAdjust="spacingAndGlyphs" >70</text><text x="1580.8" y="626" font-size="10" fill="#000" textLength="9.60" lengthAdjust="spacingAndGlyphs" >30</text><text x="1581" y="648" font-size="10" fill="#000" textLength="5.40" lengthAdjust="spacingAndGlyphs" >0</text><rect x="0" y="653" width="1578" height="1" fill="#000"/><rect x="0" y="749" width="1578" height="1" fill="#000"/><rect x="0" y="653" width="1" height="97" fill="#000"/><rect x="1577" y="653" width="1" height="97" fill="#000"/><text x="5" y="666" font-size="10" fill="#000" textLength="153.80" lengthAdjust="spacingAndGlyphs" >MACD(12,26,9) -0.003386 -0.002073</text><g clip-path="url(#macdclip)"><rect x="1" y="712" width="1" height="32" fill="#c0c0c0"/><rect x="9" y="712" width="1" height="32" fill="#c0c0c0"/><rect x="17" y="712" width="1" height="28" fill="#c0c0c0"/><rect x="25" y="712" width="1" height="23" fill="#c0c0c0"/><rect x="33" y="712" width="1" height="22" fill="#c0c0c0"/><rect x="41" y="712" width="1" height="19" fill="#c0c0c0"/><rect x="49" y="712" width="1" height="16" fill="#c0c0c0"/><rect x="57" y="712" width="1" height="15" fill="#c0c0c0"/><rect x="65" y="712" width="1" height="15" fill="#c0c0c0"/><rect x="73" y="712" width="1" height="14" fill="#c0c0c0"/><rect x="81" y="712" width="1" height="8" fill="#c0c0c0"/><rect x="89" y="712" width="1" height="4" fill="#c0c0c0"/><rect x="97" y="712" width="1" height="2" fill="#c0c0c0"/><rect x="105" y="712" width="1" height="3" fill="#c0c0c0"/><rect x="113" y="712" width="1" height="3" fill="#c0c0c0"/><rect x="121" y="712" width="1" height="8" fill="#c0c0c0"/><rect x="129" y="712" width="1" height="11" fill="#c0c0c0"/><rect x="137" y="712" width="1" height="14" fill="#c0c0c0"/><rect x="145" y="712" width="1" height="15" fill="#c0c0c0"/><rect x="153" y="712" width="1" height="18" fill="#c0c0c0"/><rect x="161" y="712" width="1" height="17" fill="#c0c0c0"/><rect x="169" y="712" width="1" height="16" fill="#c0c0c0"/><rect x="177" y="712" width="1" height="15" fill="#c0c0c0"/><rect x="185" y="712" width="1" height="13" fill="#c0c0c0"/><rect x="193" y="712" width="1" height="12" fill="#c0c0c0"/><rect x="201" y="712" width="1" height="10" fill="#c0c0c0"/><rect x="209" y="712" width="1" height="12" fill="#c0c0c0"/><rect x="217" y="712" width="1" height="16" fill="#c0c0c0"/><rect x="225" y="712" width="1" height="20" fill="#c0c0c0"/><rect x="233" y="712" width="1" height="21" fill="#c0c0c0"/><rect x="241" y="712" width="1" height="22" fill="#c0c0c0"/><rect x="249" y="712" width="1" height="15" fill="#c0c0c0"/><rect x="257" y="712" width="1" height="10" fill="#c0c0c0"/><rect x="273" y="706" width="1" height="7" fill="#c0c0c0"/><rect x="281" y="700" width="1" height="13" fill="#c0c0c0"/><rect x="289" y="694" width="1" height="19" fill="#c0c0c0"/><rect x="297" y="691" width="1" height="22" fill="#c0c0c0"/><rect x="305" y="689" width="1" height="24" fill="#c0c0c0"/><rect x="313" y="688" width="1" height="25" fill="#c0c0c0"/><rect x="321" y="689" width="1" height="24" fill="#c0c0c0"/><rect x="329" y="688" width="1" height="25" fill="#c0c0c0"/><rect x="337" y="685" width="1" height="28" fill="#c0c0c0"/><rect x="345" y="684" width="1" height="29" fill="#c0c0c0"/><rect x="353" y="683" width="1" height="30" fill="#c0c0c0"/><rect x="361" y="684" width="1" height="29" fill="#c0c0c0"/><rect x="369" y="684" width="1" height="29" fill="#c0c0c0"/><rect x="377" y="684" width="1" height="29" fill="#c0c0c0"/><rect x="385" y="686" width="1" height="27" fill="#c0c0c0"/><rect x="393" y="685" width="1" height="28" fill="#c0c0c0"/><rect x="401" y="684" width="1" height="29" fill="#c0c0c0"/><rect x="409" y="682" width="1" height="31" fill="#c0c0c0"/><rect x="417" y="680" width="1" height="33" fill="#c0c0c0"/><rect x="425" y="679" width="1" height="34" fill="#c0c0c0"/><rect x="433" y="680" width="1" height="33" fill="#c0c0c0"/><rect x="441" y="682" width="1" height="31" fill="#c0c0c0"/><rect x="449" y="681" width="1" height="32" fill="#c0c0c0"/><rect x="457" y="679" width="1" height="34" fill="#c0c0c0"/><rect x="465" y="677" width="1" height="36" fill="#c0c0c0"/><rect x="473" y="677" width="1" height="36" fill="#c0c0c0"/><rect x="481" y="676" width="1" height="37" fill="#c0c0c0"/><rect x="489" y="678" width="1" height="35" fill="#c0c0c0"/><rect x="497" y="677" width="1" height="36" fill="#c0c0c0"/><rect x="505" y="674" width="1" height="39" fill="#c0c0c0"/><rect x="513" y="671" width="1" height="42" fill="#c0c0c0"/><rect x="521" y="669" width="1" height="44" fill="#c0c0c0"/><rect x="529" y="668" width="1" height="45" fill="#c0c0c0"/><rect x="537" y="668" width="1" height="45" fill="#c0c0c0"/><rect x="545" y="666" width="1" height="47" fill="#c0c0c0"/><rect x="553" y="663" width="1" height="50" fill="#c0c0c0"/><rect x="561" y="662" width="1" height="51" fill="#c0c0c0"/><rect x="569" y="661" width="1" height="52" fill="#c0c0c0"/><rect x="577" y="664" width="1" height="49" fill="#c0c0c0"/><rect x="585" y="669" width="1" height="44" fill="#c0c0c0"/><rect x="593" y="670" width="1" height="43" fill="#c0c0c0"/><rect x="601" y="671" width="1" height="42" fill="#c0c0c0"/><rect x="609" y="672" width="1" height="41" fill="#c0c0c0"/><rect x="617" y="674" width="1" height="39" fill="#c0c0c0"/><rect x="625" y="674" width="1" height="39" fill="#c0c0c0"/><rect x="633" y="671" width="1" height="42" fill="#c0c0c0"/><rect x="641" y="667" width="1" height="46" fill="#c0c0c0"/><rect x="649" y="666" width="1" height="47" fill="#c0c0c0"/><rect x="657" y="667" width="1" height="46" fill="#c0c0c0"/><rect x="665" y="665" width="1" height="48" fill="#c0c0c0"/><rect x="673" y="662" width="1" height="51" fill="#c0c0c0"/><rect x="681" y="661" width="1" height="52" fill="#c0c0c0"/><rect x="689" y="660" width="1" height="53" fill="#c0c0c0"/><rect x="697" y="661" width="1" height="52" fill="#c0c0c0"/><rect x="705" y="665" width="1" height="48" fill="#c0c0c0"/><rect x="713" y="667" width="1" height="46" fill="#c0c0c0"/><rect x="721" y="669" width="1" height="44" fill="#c0c0c0"/><rect x="729" y="669" width="1" height="44" fill="#c0c0c0"/><rect x="737" y="673" width="1" height="40" fill="#c0c0c0"/><rect x="745" y="676" width="1" height="37" fill="#c0c0c0"/><rect x="753" y="681" width="1" height="32" fill="#c0c0c0"/><rect x="761" y="683" width="1" height="30" fill="#c0c0c0"/><rect x="769" y="684" width="1" height="29" fill="#c0c0c0"/><rect x="777" y="683" width="1" height="30" fill="#c0c0c0"/><rect x="785" y="686" width="1" height="27" fill="#c0c0c0"/><rect x="793" y="688" width="1" height="25" fill="#c0c0c0"/><rect x="801" y="691" width="1" height="22" fill="#c0c0c0"/><rect x="809" y="691" width="1" height="22" fill="#c0c0c0"/><rect x="817" y="694" width="1" height="19" fill="#c0c0c0"/><rect x="825" y="698" width="1" height="15" fill="#c0c0c0"/><rect x="833" y="701" width="1" height="12" fill="#c0c0c0"/><rect x="841" y="706" width="1" height="7" fill="#c0c0c0"/><rect x="849" y="710" width="1" height="3" fill="#c0c0c0"/><rect x="857" y="712" width="1" height="3" fill="#c0c0c0"/><rect x="865" y="712" width="1" height="5" fill="#c0c0c0"/><rect x="873" y="712" width="1" height="8" fill="#c0c0c0"/><rect x="881" y="712" width="1" height="7" fill="#c0c0c0"/><rect x="889" y="712" width="1" height="5" fill="#c0c0c0"/><rect x="913" y="709" width="1" height="4" fill="#c0c0c0"/><rect x="921" y="705" width="1" height="8" fill="#c0c0c0"/><rect x="929" y="702" width="1" height="11" fill="#c0c0c0"/><rect x="937" y="700" width="1" height="13" fill="#c0c0c0"/><rect x="945" y="698" width="1" height="15" fill="#c0c0c0"/><rect x="953" y="696" width="1" height="17" fill="#c0c0c0"/><rect x="961" y="697" width="1" height="16" fill="#c0c0c0"/><rect x="969" y="698" width="1" height="15" fill="#c0c0c0"/><rect x="977" y="692" width="1" height="21" fill="#c0c0c0"/><rect x="985" y="688" width="1" height="25" fill="#c0c0c0"/><rect x="993" y="683" width="1" height="30" fill="#c0c0c0"/><rect x="1001" y="679" width="1" height="34" fill="#c0c0c0"/><rect x="1009" y="676" width="1" height="37" fill="#c0c0c0"/><rect x="1017" y="671" width="1" height="42" fill="#c0c0c0"/><rect x="1025" y="680" width="1" height="33" fill="#c0c0c0"/><rect x="1033" y="688" width="1" height="25" fill="#c0c0c0"/><rect x="1041" y="692" width="1" height="21" fill="#c0c0c0"/><rect x="1049" y="693" width="1" height="20" fill="#c0c0c0"/><rect x="1057" y="695" width="1" height="18" fill="#c0c0c0"/><rect x="1065" y="697" width="1" height="16" fill="#c0c0c0"/><rect x="1073" y="705" width="1" height="8" fill="#c0c0c0"/><rect x="1081" y="711" width="1" height="2" fill="#c0c0c0"/><rect x="1089" y="712" width="1" height="3" fill="#c0c0c0"/><rect x="1097" y="712" width="1" height="6" fill="#c0c0c0"/><rect x="1105" y="712" width="1" height="7" fill="#c0c0c0"/><rect x="1113" y="712" width="1" height="5" fill="#c0c0c0"/><rect x="1121" y="712" width="1" height="4" fill="#c0c0c0"/><rect x="1129" y="712" width="1" height="3" fill="#c0c0c0"/><rect x="1137" y="712" width="1" height="2" fill="#c0c0c0"/><rect x="1145" y="712" width="1" height="4" fill="#c0c0c0"/><rect x="1153" y="712" width="1" height="5" fill="#c0c0c0"/><rect x="1161" y="712" width="1" height="2" fill="#c0c0c0"/><rect x="1169" y="712" width="1" height="2" fill="#c0c0c0"/><rect x="1177" y="712" width="1" height="2" fill="#c0c0c0"/><rect x="1193" y="712" width="1" height="4" fill="#c0c0c0"/><rect x="1201" y="712" width="1" height="10" fill="#c0c0c0"/><rect x="1209" y="712" width="1" height="16" fill="#c0c0c0"/><rect x="1217" y="712" width="1" height="20" fill="#c0c0c0"/><rect x="1225" y="712" width="1" height="21" fill="#c0c0c0"/><rect x="1233" y="712" width="1" height="21" fill="#c0c0c0"/><rect x="1241" y="712" width="1" height="22" fill="#c0c0c0"/></g><polyline points="1.5,718.9 9.5,723.8 17.5,730.0 25.5,731.9 33.5,735.6 41.5,736.8 49.5,737.4 57.5,736.8 65.5,735.6 73.5,733.1 81.5,730.6 89.5,728.4 97.5,726.3 105.5,723.5 113.5,722.0 121.5,720.5 129.5,719.8 137.5,719.5 145.5,720.1 153.5,721.4 161.5,723.0 169.5,724.2 177.5,725.4 185.5,726.3 193.5,727.2 201.5,726.7 209.5,726.7 217.5,726.7 225.5,727.5 233.5,727.5 241.5,728.3 249.5,728.3 257.5,727.5 265.5,726.0 273.5,724.4 281.5,722.3 289.5,717.4 297.5,713.7 305.5,710.0 313.5,703.2 321.5,699.3 329.5,696.4 337.5,691.9 345.5,689.4 353.5,687.8 361.5,686.2 369.5,685.7 377.5,685.3 385.5,684.4 393.5,684.4 401.5,683.6 409.5,683.4 417.5,683.4 425.5,682.4 433.5,682.4 441.5,681.5 449.5,681.3 457.5,680.3 465.5,679.4 473.5,679.4 481.5,678.5 489.5,678.2 497.5,677.5 505.5,677.5 513.5,676.4 521.5,674.5 529.5,673.3 537.5,672.3 545.5,671.4 553.5,669.6 561.5,668.3 569.5,666.7 577.5,665.3 585.5,665.5 593.5,665.5 601.5,665.5 609.5,665.5 617.5,666.4 625.5,667.3 633.5,669.4 641.5,669.4 649.5,669.4 657.5,669.4 665.5,669.4 673.5,668.3 681.5,667.3 689.5,664.9 697.5,663.6 705.5,663.4 713.5,663.4 721.5,663.4 729.5,663.4 737.5,664.3 745.5,666.1 753.5,668.6 761.5,672.0 769.5,673.5 777.5,675.4 785.5,677.2 793.5,679.7 801.5,682.4 809.5,684.4 817.5,686.5 825.5,688.6 833.5,690.6 841.5,692.3 849.5,695.1 857.5,697.6 865.5,701.9 873.5,705.0 881.5,707.5 889.5,711.2 897.5,713.0 905.5,714.3 913.5,714.5 921.5,714.5 929.5,711.8 937.5,710.6 945.5,708.5 953.5,706.6 961.5,703.6 969.5,701.4 977.5,700.2 985.5,697.7 993.5,695.2 1001.5,692.4 1009.5,689.1 1017.5,685.7 1025.5,684.4 1033.5,683.5 1041.5,682.7 1049.5,682.5 1057.5,682.7 1065.5,684.1 1073.5,687.2 1081.5,689.4 1089.5,694.6 1097.5,700.8 1105.5,703.3 1113.5,707.0 1121.5,709.7 1129.5,712.5 1137.5,715.0 1145.5,716.6 1153.5,717.5 1161.5,717.2 1169.5,716.5 1177.5,716.5 1185.5,715.5 1193.5,715.5 1201.5,716.2 1209.5,717.2 1217.5,718.4 1225.5,721.4 1233.5,723.1 1241.5,724.4" fill="none" stroke="#ff0000" stroke-width="1" stroke-dasharray="3,3" clip-path="url(#macdclip)"/><rect x="1578" y="655" width="1" height="1" fill="#000"/><rect x="1578" y="712" width="1" height="1" fill="#000"/><rect x="1578" y="748" width="1" height="1" fill="#000"/><text x="1581" y="664" font-size="10" fill="#000" textLength="32.60" lengthAdjust="spacingAndGlyphs" >0.00884</text><text x="1581" y="716" font-size="10" fill="#000" textLength="17.60" lengthAdjust="spacingAndGlyphs" >0.00</text><text x="1580.5" y="747" font-size="10" fill="#000" textLength="41.50" lengthAdjust="spacingAndGlyphs" >-0.005651</text><rect x="1" y="750" width="1" height="3" fill="#000"/><text x="0.19999999999999996" y="762" font-size="9.4" fill="#000" textLength="52.24" lengthAdjust="spacingAndGlyphs" >28 Sep 2020</text><rect x="65" y="750" width="1" height="3" fill="#000"/><text x="64.2" y="762" font-size="9.4" fill="#000" textLength="45.06" lengthAdjust="spacingAndGlyphs" >7 Oct 2020</text><rect x="129" y="750" width="1" height="3" fill="#000"/><text x="128.2" y="762" font-size="9.4" fill="#000" textLength="50.19" lengthAdjust="spacingAndGlyphs" >16 Oct 2020</text><rect x="193" y="750" width="1" height="3" fill="#000"/><text x="192.2" y="762" font-size="9.4" fill="#000" textLength="50.19" lengthAdjust="spacingAndGlyphs" >26 Oct 2020</text><rect x="257" y="750" width="1" height="3" fill="#000"/><text x="256.2" y="762" font-size="9.4" fill="#000" textLength="47.11" lengthAdjust="spacingAndGlyphs" >4 Nov 2020</text><rect x="321" y="750" width="1" height="3" fill="#000"/><text x="320.2" y="762" font-size="9.4" fill="#000" textLength="52.24" lengthAdjust="spacingAndGlyphs" >13 Nov 2020</text><rect x="385" y="750" width="1" height="3" fill="#000"/><text x="384.2" y="762" font-size="9.4" fill="#000" textLength="52.24" lengthAdjust="spacingAndGlyphs" >23 Nov 2020</text><rect x="449" y="750" width="1" height="3" fill="#000"/><text x="448.2" y="762" font-size="9.4" fill="#000" textLength="47.11" lengthAdjust="spacingAndGlyphs" >2 Dec 2020</text><rect x="513" y="750" width="1" height="3" fill="#000"/><text x="512.2" y="762" font-size="9.4" fill="#000" textLength="51.55" lengthAdjust="spacingAndGlyphs" >11 Dec 2020</text><rect x="577" y="750" width="1" height="3" fill="#000"/><text x="576.2" y="762" font-size="9.4" fill="#000" textLength="52.24" lengthAdjust="spacingAndGlyphs" >21 Dec 2020</text><rect x="641" y="750" width="1" height="3" fill="#000"/><text x="640.2" y="762" font-size="9.4" fill="#000" textLength="52.24" lengthAdjust="spacingAndGlyphs" >31 Dec 2020</text><rect x="705" y="750" width="1" height="3" fill="#000"/><text x="704.2" y="762" font-size="9.4" fill="#000" textLength="50.02" lengthAdjust="spacingAndGlyphs" >11 Jan 2021</text><rect x="769" y="750" width="1" height="3" fill="#000"/><text x="768.2" y="762" font-size="9.4" fill="#000" textLength="50.71" lengthAdjust="spacingAndGlyphs" >20 Jan 2021</text><rect x="833" y="750" width="1" height="3" fill="#000"/><text x="832.2" y="762" font-size="9.4" fill="#000" textLength="50.71" lengthAdjust="spacingAndGlyphs" >29 Jan 2021</text><rect x="897" y="750" width="1" height="3" fill="#000"/><text x="896.2" y="762" font-size="9.4" fill="#000" textLength="46.60" lengthAdjust="spacingAndGlyphs" >8 Feb 2021</text><rect x="961" y="750" width="1" height="3" fill="#000"/><text x="960.2" y="762" font-size="9.4" fill="#000" textLength="51.73" lengthAdjust="spacingAndGlyphs" >17 Feb 2021</text><rect x="1025" y="750" width="1" height="3" fill="#000"/><text x="1024.2" y="762" font-size="9.4" fill="#000" textLength="51.73" lengthAdjust="spacingAndGlyphs" >26 Feb 2021</text><rect x="1089" y="750" width="1" height="3" fill="#000"/><text x="1088.2" y="762" font-size="9.4" fill="#000" textLength="46.60" lengthAdjust="spacingAndGlyphs" >8 Mar 2021</text><rect x="1153" y="750" width="1" height="3" fill="#000"/><text x="1152.2" y="762" font-size="9.4" fill="#000" textLength="51.72" lengthAdjust="spacingAndGlyphs" >17 Mar 2021</text><rect x="1217" y="750" width="1" height="3" fill="#000"/><text x="1216.2" y="762" font-size="9.4" fill="#000" textLength="51.72" lengthAdjust="spacingAndGlyphs" >26 Mar 2021</text><rect x="0" y="770" width="1620" height="1" fill="#e8e8e8"/><rect x="0" y="771" width="1620" height="1" fill="#ffffff"/><rect x="0" y="772" width="1620" height="1" fill="#000"/><rect x="0" y="773" width="1620" height="18" fill="#f0f0f0"/><rect x="0" y="791" width="1620" height="2" fill="#f5f5f5"/><rect x="0" y="793" width="1620" height="2" fill="#e3e3e3"/><rect x="0" y="795" width="1620" height="2" fill="#a0a0a0"/><rect x="205" y="773" width="1" height="18" fill="#ffffff"/><rect x="206" y="772" width="104" height="19" fill="#000"/><rect x="207" y="772" width="102" height="18" fill="#ffffff"/><text x="13.700000000000001" y="787" font-size="12" fill="#6b6b6b" textLength="80.90" lengthAdjust="spacingAndGlyphs" >EURUSD,Daily</text><text x="115.7" y="787" font-size="12" fill="#6b6b6b" textLength="79.80" lengthAdjust="spacingAndGlyphs" >USDCHF,Daily</text><text x="216.9" y="787" font-size="12" fill="#000" textLength="82.00" lengthAdjust="spacingAndGlyphs" >AUDUSD,Daily</text><text x="320.4" y="787" font-size="12" fill="#6b6b6b" textLength="81.70" lengthAdjust="spacingAndGlyphs" >USDCAD,Daily</text><text x="423.7" y="787" font-size="12" fill="#6b6b6b" textLength="83.40" lengthAdjust="spacingAndGlyphs" >USDCNH,Daily</text><text x="529.4" y="787" font-size="12" fill="#6b6b6b" textLength="81.00" lengthAdjust="spacingAndGlyphs" >EURUSD,Daily</text><text x="633.6999999999999" y="787" font-size="12" fill="#6b6b6b" textLength="80.70" lengthAdjust="spacingAndGlyphs" >GBPUSD,Daily</text><text x="736.1" y="787" font-size="12" fill="#6b6b6b" textLength="82.60" lengthAdjust="spacingAndGlyphs" >XAUUSD,Daily</text><text x="841.1" y="787" font-size="12" fill="#6b6b6b" textLength="61.00" lengthAdjust="spacingAndGlyphs" >HK50,M15</text><text x="924.4" y="787" font-size="12" fill="#6b6b6b" textLength="57.70" lengthAdjust="spacingAndGlyphs" >UK100,H1</text><text x="1004.4" y="787" font-size="12" fill="#6b6b6b" textLength="57.70" lengthAdjust="spacingAndGlyphs" >UK100,H1</text><text x="1084.4" y="787" font-size="12" fill="#6b6b6b" textLength="57.70" lengthAdjust="spacingAndGlyphs" >GER30,H1</text><text x="1163.4" y="787" font-size="12" fill="#6b6b6b" textLength="55.30" lengthAdjust="spacingAndGlyphs" >FRA40,H1</text><text x="1239.4" y="787" font-size="12" fill="#6b6b6b" textLength="51.70" lengthAdjust="spacingAndGlyphs" >USOil,H1</text><text x="1311.7" y="787" font-size="12" fill="#6b6b6b" textLength="63.70" lengthAdjust="spacingAndGlyphs" >USDJPY,H1</text><text x="1396.7" y="787" font-size="12" fill="#6b6b6b" textLength="73.70" lengthAdjust="spacingAndGlyphs" >DJ30,Weekly</text><text x="1491.5" y="787" font-size="12" fill="#6b6b6b" textLength="79.50" lengthAdjust="spacingAndGlyphs" >CHINA300,H1</text><rect x="106" y="775" width="1" height="14" fill="#5a5a5a"/><rect x="414" y="775" width="1" height="14" fill="#5a5a5a"/><rect x="519" y="775" width="1" height="14" fill="#5a5a5a"/><rect x="622" y="775" width="1" height="14" fill="#5a5a5a"/><rect x="726" y="775" width="1" height="14" fill="#5a5a5a"/><rect x="830" y="775" width="1" height="14" fill="#5a5a5a"/><rect x="914" y="775" width="1" height="14" fill="#5a5a5a"/><rect x="994" y="775" width="1" height="14" fill="#5a5a5a"/><rect x="1073" y="775" width="1" height="14" fill="#5a5a5a"/><rect x="1154" y="775" width="1" height="14" fill="#5a5a5a"/><rect x="1230" y="775" width="1" height="14" fill="#5a5a5a"/><rect x="1302" y="775" width="1" height="14" fill="#5a5a5a"/><rect x="1386" y="775" width="1" height="14" fill="#5a5a5a"/><rect x="1482" y="775" width="1" height="14" fill="#5a5a5a"/><rect x="1582" y="775" width="1" height="14" fill="#5a5a5a"/><path d="M1597 778 L1597 786 L1593 782 Z" fill="#a0a0a0" shape-rendering="auto"/><path d="M1612 778 L1612 786 L1616 782 Z" fill="#000" shape-rendering="auto"/>
</svg></body></html>
